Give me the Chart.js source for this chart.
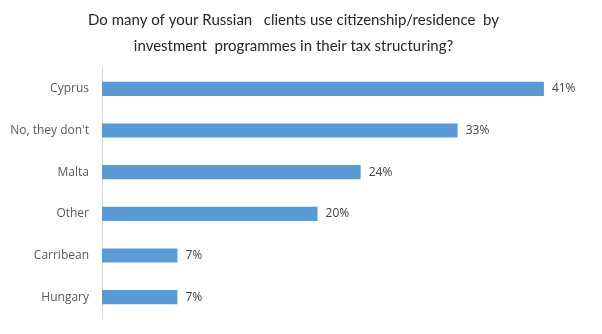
<!DOCTYPE html>
<html>
<head>
<meta charset="utf-8">
<script src="https://cdn.jsdelivr.net/npm/chart.js@4"></script>
<style>
  html, body { margin: 0; padding: 0; background: #fff; }
  #wrap { width: 602px; height: 334px; }
</style>
</head>
<body>
<div id="wrap"><canvas id="chart"></canvas></div>
<script>
const TITLE_LINES = [
  "Do many of your Russian   clients use citizenship/residence  by",
  "investment  programmes in their tax structuring?",
];
const CATEGORIES = ["Cyprus", "No, they don't", "Malta", "Other", "Carribean", "Hungary"];
const SHARES = [41, 33, 24, 20, 7, 7];

// draws "NN%" just past the end of each bar
const valueLabels = {
  id: "valueLabels",
  afterDatasetsDraw(chart) {
    const { ctx } = chart;
    const meta = chart.getDatasetMeta(0);
    ctx.save();
    ctx.font = "12px 'Open Sans'";
    ctx.fillStyle = "#404040";
    ctx.textAlign = "left";
    ctx.textBaseline = "middle";
    meta.data.forEach((bar, i) => {
      ctx.fillText(SHARES[i] + "%", bar.x + 8, bar.y);
    });
    ctx.restore();
  },
};

new Chart(document.getElementById("chart"), {
  type: "bar",
  data: {
    labels: CATEGORIES,
    datasets: [
      {
        data: SHARES,
        backgroundColor: "#5b9bd5",
        borderWidth: 0,
        barPercentage: 0.34,
        categoryPercentage: 1,
      },
    ],
  },
  options: {
    indexAxis: "y",
    responsive: true,
    maintainAspectRatio: false,
    animation: false,
    layout: { padding: { top: 0, right: 15, bottom: 16, left: 0 } },
    scales: {
      x: {
        display: false,
        min: 0,
        max: 45,
      },
      y: {
        grid: { display: false, drawTicks: false },
        border: { display: true, color: "#d9d9d9", width: 1 },
        ticks: {
          color: "#595959",
          padding: 13,
          font: { family: "'Open Sans'", size: 12 },
        },
        afterFit: (scale) => {
          scale.width = 102;
          // labels sit mid-category, so no extra room above/below the axis
          scale.paddingTop = 0;
          scale.paddingBottom = 0;
        },
      },
    },
    plugins: {
      legend: { display: false },
      tooltip: { enabled: false },
      title: {
        display: true,
        text: TITLE_LINES,
        color: "#262626",
        font: { family: "Lato", size: 15, weight: "normal", lineHeight: 1.733 },
        padding: { top: 7, bottom: 9 },
      },
    },
  },
  plugins: [valueLabels],
});
</script>
</body>
</html>
